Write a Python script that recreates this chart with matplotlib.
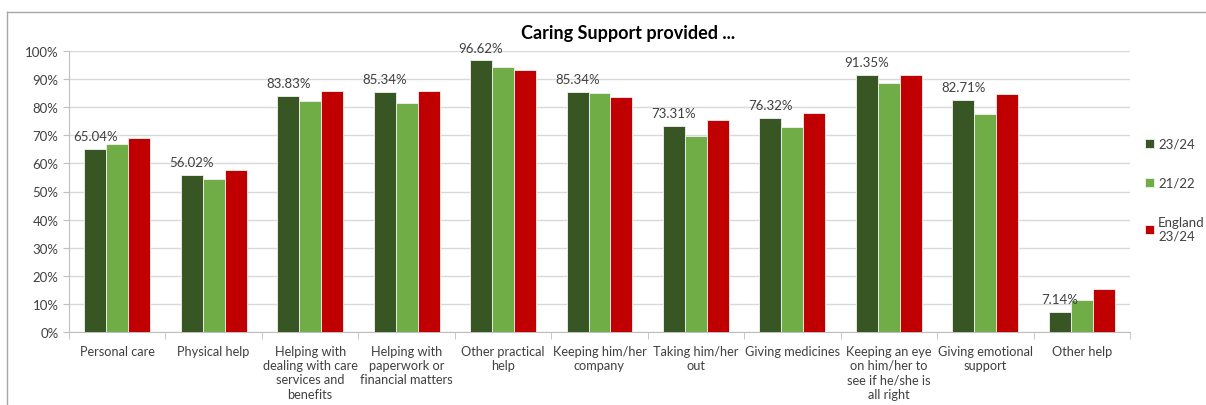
import numpy as np
import matplotlib.pyplot as plt
from matplotlib.lines import Line2D
from matplotlib.ticker import PercentFormatter, FixedLocator

plt.rcParams['font.family'] = ['Lato', 'DejaVu Sans']

# Data (percent)
categories = ['Personal care', 'Physical help',
              'Helping with\ndealing with care\nservices and\nbenefits',
              'Helping with\npaperwork or\nfinancial matters',
              'Other practical\nhelp', 'Keeping him/her\ncompany',
              'Taking him/her\nout', 'Giving medicines',
              'Keeping an eye\non him/her to\nsee if he/she is\nall right',
              'Giving emotional\nsupport', 'Other help']
y2324 = [65.04, 56.02, 83.83, 85.34, 96.62, 85.34, 73.31, 76.32, 91.35, 82.71, 7.14]
y2122 = [66.8, 54.3, 82.3, 81.4, 94.2, 85.2, 69.7, 73.1, 88.5, 77.6, 11.3]
england = [69.0, 57.7, 85.7, 85.9, 93.2, 83.7, 75.4, 77.8, 91.6, 84.6, 15.2]
series_names = ['23/24', '21/22', 'England\n23/24']
colours = ['#375623', '#70AD47', '#C00000']

fig = plt.figure(figsize=(12.06, 4.06), dpi=100)
ax = fig.add_axes([69/1206, 1-333/406, (1130-69)/1206, (333-52)/406])

x = np.arange(len(categories))
w = 0.228
for k, vals in enumerate([y2324, y2122, england]):
    ax.bar(x + (k-1)*w, vals, w, color=colours[k], edgecolor='#f2f2f2', lw=0.6,
           label=series_names[k], zorder=3)

# labels above 23/24 bars
for xi, v in zip(x, y2324):
    ax.annotate('%.2f%%' % v, (xi - w, v), xytext=(0, 5), textcoords='offset points',
                ha='center', va='bottom', fontsize=9.5, color='#404040', zorder=4)

ax.set_xlim(-0.5, len(categories) - 0.5)
ax.set_ylim(0, 100)
ax.set_yticks(np.arange(0, 101, 10))
ax.yaxis.set_major_formatter(PercentFormatter(decimals=0))
ax.set_xticks(x)
ax.set_xticklabels(categories, fontsize=9.2, color='#404040', linespacing=1.25)
ax.xaxis.set_minor_locator(FixedLocator(np.arange(-0.5, len(categories), 1)))
ax.tick_params(axis='x', which='major', length=0, pad=9)
ax.tick_params(axis='x', which='minor', length=5, color='#bfbfbf')
ax.tick_params(axis='y', labelsize=9.5, labelcolor='#404040', length=4, color='#bfbfbf')
ax.grid(axis='y', color='#d9d9d9', lw=1, zorder=0)
for s in ['top', 'right']:
    ax.spines[s].set_visible(False)
for s in ['left', 'bottom']:
    ax.spines[s].set_color('#bfbfbf')

fig.text(628/1206, 1-34/406, 'Caring Support provided ...', ha='center', va='center',
         fontsize=13, fontweight='bold')

fig.legend(loc='upper left', bbox_to_anchor=(1133/1206, 1-127/406), frameon=False,
           fontsize=9.5, handlelength=0.7, handleheight=0.7, handletextpad=0.3,
           labelspacing=2.05, labelcolor='#404040')

# outer chart border
fig.add_artist(Line2D([7/1206, 7/1206], [0, 1-13/406], transform=fig.transFigure,
                      color='#a6a6a6', lw=1))
fig.add_artist(Line2D([7/1206, 1], [1-13/406, 1-13/406], transform=fig.transFigure,
                      color='#a6a6a6', lw=1))

fig.savefig('out.png', dpi=100)
